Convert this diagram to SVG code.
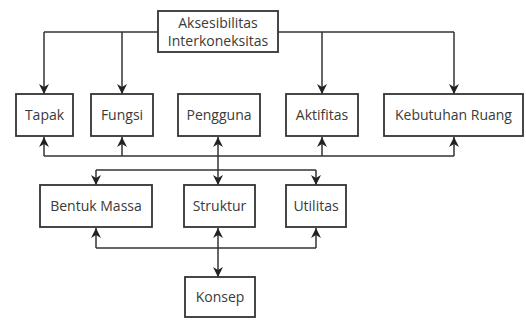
<svg xmlns="http://www.w3.org/2000/svg" width="526" height="320" viewBox="0 0 526 320">
<defs>
<style>
.box{fill:#fff;stroke:#333;stroke-width:1.8}
.lbl{font-family:"Open Sans","Liberation Sans",sans-serif;font-size:14px;fill:#3a3a3a;text-anchor:middle}
.ln{fill:none;stroke:#333;stroke-width:1.5}
</style>
<marker id="ah" viewBox="0 0 10 10" refX="10" refY="5" markerWidth="10" markerHeight="10" markerUnits="userSpaceOnUse" orient="auto-start-reverse">
<path d="M0,0 L10,5 L0,10 L3,5 Z" fill="#222"/>
</marker>
</defs>
<rect width="526" height="320" fill="#fff"/>
<g id="connectors">
<path class="ln" d="M44,32 H454"/>
<path class="ln" d="M44,32 V94" marker-end="url(#ah)"/>
<path class="ln" d="M122,32 V94" marker-end="url(#ah)"/>
<path class="ln" d="M322,32 V94" marker-end="url(#ah)"/>
<path class="ln" d="M454,32 V94" marker-end="url(#ah)"/>
<path class="ln" d="M44,156 H454"/>
<path class="ln" d="M44,156 V137" marker-end="url(#ah)"/>
<path class="ln" d="M122,156 V137" marker-end="url(#ah)"/>
<path class="ln" d="M218,156 V137" marker-end="url(#ah)"/>
<path class="ln" d="M322,156 V137" marker-end="url(#ah)"/>
<path class="ln" d="M454,156 V137" marker-end="url(#ah)"/>
<path class="ln" d="M218,156 V185" marker-end="url(#ah)"/>
<path class="ln" d="M96,170 H316"/>
<path class="ln" d="M96,170 V185" marker-end="url(#ah)"/>
<path class="ln" d="M316,170 V185" marker-end="url(#ah)"/>
<path class="ln" d="M96,248 H316"/>
<path class="ln" d="M96,248 V228" marker-end="url(#ah)"/>
<path class="ln" d="M316,248 V228" marker-end="url(#ah)"/>
<path class="ln" d="M218,228 V277" marker-start="url(#ah)" marker-end="url(#ah)"/>
</g>
<g id="aksesibilitas">
<rect class="box" x="158" y="11" width="120" height="41"/>
<text class="lbl" x="218" y="28">Aksesibilitas</text>
<text class="lbl" x="218" y="46">Interkoneksitas</text>
</g>
<g id="tapak">
<rect class="box" x="16" y="94" width="57" height="42"/>
<text class="lbl" x="44.5" y="120">Tapak</text>
</g>
<g id="fungsi">
<rect class="box" x="91" y="94" width="62" height="42"/>
<text class="lbl" x="122" y="120">Fungsi</text>
</g>
<g id="pengguna">
<rect class="box" x="178" y="94" width="82" height="42"/>
<text class="lbl" x="219" y="120">Pengguna</text>
</g>
<g id="aktifitas">
<rect class="box" x="286" y="94" width="72" height="42"/>
<text class="lbl" x="322" y="120">Aktifitas</text>
</g>
<g id="kebutuhan">
<rect class="box" x="384" y="94" width="139" height="42"/>
<text class="lbl" x="453.5" y="120">Kebutuhan Ruang</text>
</g>
<g id="bentuk">
<rect class="box" x="40" y="185" width="112" height="42"/>
<text class="lbl" x="96" y="211">Bentuk Massa</text>
</g>
<g id="struktur">
<rect class="box" x="184" y="185" width="71" height="42"/>
<text class="lbl" x="219.5" y="211">Struktur</text>
</g>
<g id="utilitas">
<rect class="box" x="286" y="185" width="60" height="42"/>
<text class="lbl" x="316" y="211">Utilitas</text>
</g>
<g id="konsep">
<rect class="box" x="185" y="277" width="70" height="40"/>
<text class="lbl" x="220" y="302">Konsep</text>
</g>
</svg>
